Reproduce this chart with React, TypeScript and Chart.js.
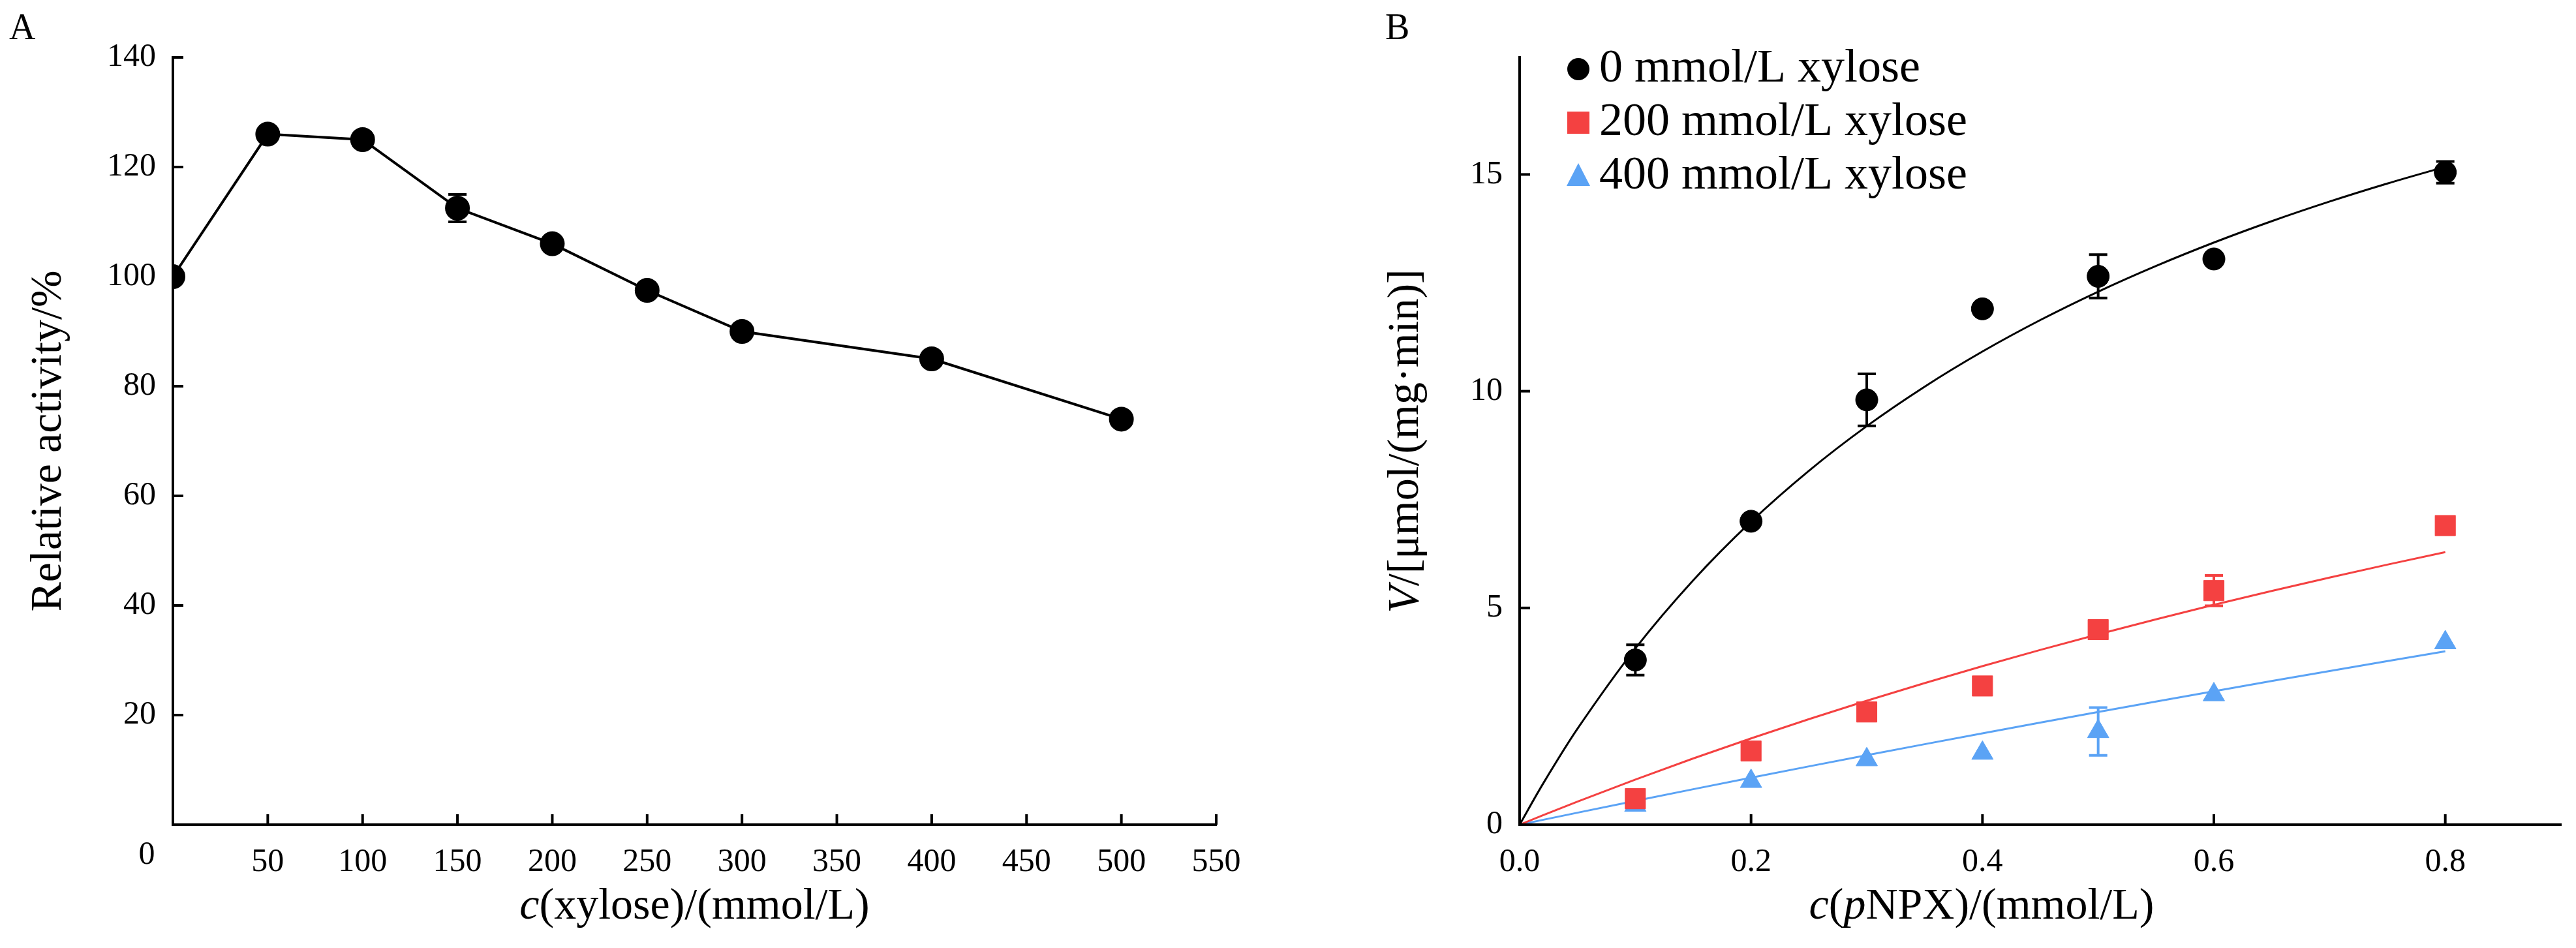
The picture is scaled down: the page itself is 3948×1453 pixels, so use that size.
import React, { useEffect, useRef } from "react";
import { Chart, registerables } from "chart.js";
Chart.register(...registerables);

const xyloseConc = [0, 50, 100, 150, 200, 250, 300, 400, 500];
const relActivity = [100, 126, 125, 112.5, 106, 97.5, 90, 85, 74];
const relActivityErr = [0, 0, 0, 2.5, 0, 0, 0, 0, 0];
const xTicksA = [0, 50, 100, 150, 200, 250, 300, 350, 400, 450, 500, 550];
const yTicksA = [20, 40, 60, 80, 100, 120, 140];

const pnpx = [0.1, 0.2, 0.3, 0.4, 0.5, 0.6, 0.8];
const v0 = [3.8, 7.0, 9.8, 11.9, 12.65, 13.05, 15.05];
const v0Err = [0.35, 0, 0.6, 0, 0.5, 0, 0.25];
const v200 = [0.6, 1.7, 2.6, 3.2, 4.5, 5.4, 6.9];
const v200Err = [0, 0, 0, 0, 0, 0.35, 0];
const v400 = [0.45, 1.0, 1.5, 1.65, 2.15, 3.0, 4.2];
const v400Err = [0, 0, 0, 0, 0.55, 0, 0];
const xTicksB = [0, 0.2, 0.4, 0.6, 0.8];
const yTicksB = [0, 5, 10, 15];
// Michaelis–Menten fit parameters [Vmax, Km]
const fit0 = [24.9, 0.5125];
const fit200 = [22.4, 2.05];
const fit400 = [39, 7];
const fitX = [0, 0.02, 0.05, 0.1, 0.15, 0.2, 0.25, 0.3, 0.35, 0.4, 0.45, 0.5, 0.55, 0.6, 0.65, 0.7, 0.75, 0.8];

const SERIF = '"Liberation Serif", "DejaVu Serif", serif';
const FS = 50;
const TFS = 68;
const LFS = 72;
const RED = "#f44141";
const BLUE = "#5ba3f5";

type Seg = [string, boolean];
function drawSegs(ctx: CanvasRenderingContext2D, segs: Seg[], x: number, y: number, size: number, align: "center" | "left") {
  const widths = segs.map(([t, it]) => { ctx.font = `${it ? "italic " : ""}${size}px ${SERIF}`; return ctx.measureText(t).width; });
  const total = widths.reduce((a, b) => a + b, 0);
  let cx = align === "center" ? x - total / 2 : x;
  ctx.textAlign = "left";
  ctx.textBaseline = "middle";
  ctx.fillStyle = "#000";
  segs.forEach(([t, it], i) => { ctx.font = `${it ? "italic " : ""}${size}px ${SERIF}`; ctx.fillText(t, cx, y); cx += widths[i]; });
}

function makePlugin(opts: { letter: string; letterX: number; xTitle: Seg[]; yTitle: Seg[]; yTitleX: number; xt: number[]; yt: number[]; errs: (number[] | null)[]; legend?: boolean }) {
  return {
    id: "custom" + opts.letter,
    afterDatasetsDraw(chart: any) {
      const ctx = chart.ctx as CanvasRenderingContext2D;
      const xs = chart.scales.x, ys = chart.scales.y, a = chart.chartArea;
      ctx.save();
      chart.data.datasets.forEach((ds: any, di: number) => {
        const e = opts.errs[di];
        if (!e) return;
        ctx.strokeStyle = ds.pointBackgroundColor;
        ctx.lineWidth = 4;
        ds.data.forEach((p: any, i: number) => {
          if (!e[i]) return;
          const px = xs.getPixelForValue(p.x);
          const y1 = ys.getPixelForValue(p.y - e[i]), y2 = ys.getPixelForValue(p.y + e[i]);
          ctx.beginPath();
          ctx.moveTo(px, y1); ctx.lineTo(px, y2);
          ctx.moveTo(px - 14, y1); ctx.lineTo(px + 14, y1);
          ctx.moveTo(px - 14, y2); ctx.lineTo(px + 14, y2);
          ctx.stroke();
        });
      });
      ctx.strokeStyle = "#000"; ctx.lineWidth = 4;
      opts.xt.forEach((v) => { const px = xs.getPixelForValue(v); ctx.beginPath(); ctx.moveTo(px, a.bottom); ctx.lineTo(px, a.bottom - 16); ctx.stroke(); });
      opts.yt.forEach((v) => { const py = ys.getPixelForValue(v); ctx.beginPath(); ctx.moveTo(a.left, py); ctx.lineTo(a.left + 16, py); ctx.stroke(); });
      drawSegs(ctx, opts.xTitle, (a.left + a.right) / 2 - (opts.legend ? 90 : 0), 1390, TFS, "center");
      ctx.save();
      ctx.translate(opts.yTitleX, (a.top + a.bottom) / 2);
      ctx.rotate(-Math.PI / 2);
      drawSegs(ctx, opts.yTitle, 0, 0, TFS, "center");
      ctx.restore();
      drawSegs(ctx, [[opts.letter, false]], opts.letterX, 45, FS + 6, "left");
      if (opts.legend) {
        const items: [string, string, string][] = [["circle", "#000", "0 mmol/L xylose"], ["rect", RED, "200 mmol/L xylose"], ["triangle", BLUE, "400 mmol/L xylose"]];
        items.forEach(([s, c, t], i) => {
          const mx = a.left + 90, my = 106 + i * 82;
          ctx.fillStyle = c;
          ctx.beginPath();
          if (s === "circle") ctx.arc(mx, my, 17, 0, Math.PI * 2);
          else if (s === "rect") ctx.rect(mx - 17, my - 17, 34, 34);
          else { ctx.moveTo(mx, my - 20); ctx.lineTo(mx + 18, my + 15); ctx.lineTo(mx - 18, my + 15); ctx.closePath(); }
          ctx.fill();
          drawSegs(ctx, [[t, false]], mx + 32, my, LFS, "left");
        });
      }
      ctx.restore();
    },
  };
}

function axes(xmin: number, xmax: number, ymin: number, ymax: number, xt: number[], yt: number[], yw: number, fmtX: (v: number) => string) {
  const common = { grid: { display: false }, border: { display: true, color: "#000", width: 4 }, title: { display: false } };
  return {
    x: {
      ...common, type: "linear", min: xmin, max: xmax,
      afterBuildTicks: (s: any) => { s.ticks = xt.map((v) => ({ value: v })); },
      afterFit: (s: any) => { s.height = 1453 - 1264; },
      ticks: { color: "#000", font: { family: SERIF, size: FS }, padding: 20, maxRotation: 0, autoSkip: false, callback: (v: any) => fmtX(Number(v)) },
    },
    y: {
      ...common, type: "linear", min: ymin, max: ymax,
      afterBuildTicks: (s: any) => { s.ticks = yt.map((v) => ({ value: v })); },
      afterFit: (s: any) => { s.width = yw; },
      ticks: { color: "#000", font: { family: SERIF, size: FS }, padding: 18, autoSkip: false },
    },
  };
}

function ChartA() {
  const ref = useRef<HTMLCanvasElement>(null);
  useEffect(() => {
    const chart = new Chart(ref.current!, {
      type: "scatter",
      data: {
        datasets: [{
          data: xyloseConc.map((x, i) => ({ x, y: relActivity[i] })),
          showLine: true, borderColor: "#000", borderWidth: 4, pointBackgroundColor: "#000", pointBorderColor: "#000", pointRadius: 17, pointStyle: "circle",
        }],
      },
      options: {
        animation: false, responsive: false, maintainAspectRatio: false,
        layout: { padding: { top: 88, right: 86, left: 0, bottom: 0 } },
        plugins: { legend: { display: false }, tooltip: { enabled: false } },
        scales: axes(0, 550, 0, 140, xTicksA, yTicksA, 265, (v) => (v === 0 ? "" : String(v))) as any,
      },
      plugins: [makePlugin({ letter: "A", letterX: 14, xTitle: [["c", true], ["(xylose)/(mmol/L)", false]], yTitle: [["Relative activity/%", false]], yTitleX: 75, xt: xTicksA, yt: yTicksA, errs: [relActivityErr] }),
        { id: "zeroLbl", afterDraw(c: any) { const ctx = c.ctx; ctx.save(); ctx.font = `${FS}px ${SERIF}`; ctx.fillStyle = "#000"; ctx.textAlign = "center"; ctx.textBaseline = "top"; ctx.fillText("0", 225, 1286); ctx.restore(); } }] as any,
    });
    return () => chart.destroy();
  }, []);
  return <canvas ref={ref} width={1950} height={1453} style={{ position: "absolute", left: 0, top: 0, width: 1950, height: 1453 }} />;
}

function ChartB() {
  const ref = useRef<HTMLCanvasElement>(null);
  useEffect(() => {
    const mm = (p: number[]) => fitX.map((x) => ({ x, y: (p[0] * x) / (p[1] + x) }));
    const pts = (ys: number[]) => pnpx.map((x, i) => ({ x, y: ys[i] }));
    const chart = new Chart(ref.current!, {
      type: "scatter",
      data: {
        datasets: [
          { data: pts(v0), pointBackgroundColor: "#000", pointBorderColor: "#000", pointRadius: 17, pointStyle: "circle" },
          { data: pts(v200), pointBackgroundColor: RED, pointBorderColor: RED, pointRadius: 22, pointStyle: "rect" },
          { data: pts(v400), pointBackgroundColor: BLUE, pointBorderColor: BLUE, pointRadius: 19, pointStyle: "triangle" },
          { data: mm(fit0), showLine: true, borderColor: "#000", borderWidth: 3, pointRadius: 0, tension: 0.3 },
          { data: mm(fit200), showLine: true, borderColor: RED, borderWidth: 3, pointRadius: 0 },
          { data: mm(fit400), showLine: true, borderColor: BLUE, borderWidth: 3, pointRadius: 0 },
        ] as any,
      },
      options: {
        animation: false, responsive: false, maintainAspectRatio: false,
        layout: { padding: { top: 88, right: 7, left: 0, bottom: 0 } },
        plugins: { legend: { display: false }, tooltip: { enabled: false } },
        scales: axes(0, 0.9, 0, 17.7, xTicksB, yTicksB, 369, (v) => v.toFixed(1)) as any,
      },
      plugins: [makePlugin({ letter: "B", letterX: 163, xTitle: [["c", true], ["(", false], ["p", true], ["NPX)/(mmol/L)", false]], yTitle: [["V", true], ["/[μmol/(mg·min)]", false]], yTitleX: 195, xt: xTicksB, yt: yTicksB, errs: [v0Err, v200Err, v400Err, null, null, null], legend: true })] as any,
    });
    return () => chart.destroy();
  }, []);
  return <canvas ref={ref} width={1988} height={1453} style={{ position: "absolute", left: 1960, top: 0, width: 1988, height: 1453 }} />;
}

export default function App() {
  useEffect(() => { document.body.style.margin = "0"; }, []);
  return (
    <div style={{ position: "relative", width: 3948, height: 1453, background: "#fff", overflow: "hidden" }}>
      <ChartA />
      <ChartB />
    </div>
  );
}
